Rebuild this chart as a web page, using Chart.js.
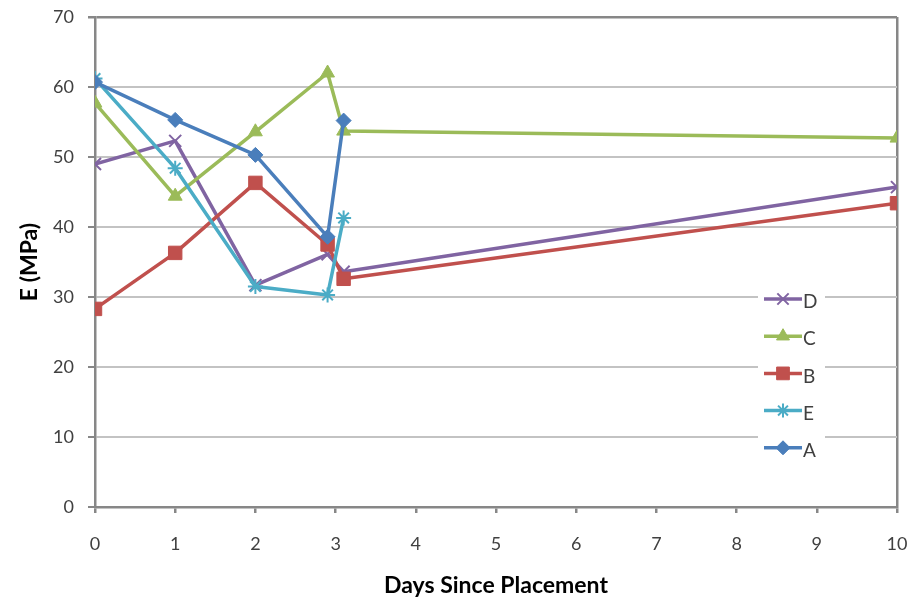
<!DOCTYPE html>
<html>
<head>
<meta charset="utf-8">
<script src="https://cdn.jsdelivr.net/npm/chart.js@4/dist/chart.umd.min.js"></script>
<style>
  html, body { margin: 0; padding: 0; background: #ffffff; }
  #wrap { width: 922px; height: 600px; }
</style>
</head>
<body>
<div id="wrap"><canvas id="chart" width="922" height="600"></canvas></div>
<script>
// Elastic modulus of each section by days since placement
const days = [0, 1, 2, 2.9, 3.1, 10];
const seriesNames = ['D', 'C', 'B', 'E', 'A'];
const seriesD = [49.0, 52.3, 31.7, 36.1, 33.6, 45.7];
const seriesC = [57.7, 44.4, 53.6, 62.0, 53.7, 52.7];
const seriesB = [28.3, 36.3, 46.3, 37.5, 32.6, 43.4];
const seriesE = [61.2, 48.4, 31.5, 30.3, 41.3, null];
const seriesA = [60.7, 55.3, 50.3, 38.6, 55.2, null];
const yTicks = [0, 10, 20, 30, 40, 50, 60, 70];
const xTicks = [0, 1, 2, 3, 4, 5, 6, 7, 8, 9, 10];

const FONT = 'Lato, "Open Sans", sans-serif';
const AXIS_GREY = '#878787';
const GRID_GREY = '#c3c3c3';
const LABEL_GREY = '#404040';

function toPoints(values) {
  const pts = [];
  values.forEach((v, i) => { if (v !== null) pts.push({ x: days[i], y: v }); });
  return pts;
}

const styles = {
  D: { color: '#8064A2', pointStyle: 'crossRot', radius: 8.5, borderWidth: 2, order: 4 },
  C: { color: '#9BBB59', pointStyle: 'triangle', radius: 8, borderWidth: 1, order: 3 },
  B: { color: '#C0504D', pointStyle: 'rect', radius: 9.5, borderWidth: 1, order: 2 },
  E: { color: '#4BACC6', pointStyle: 'star', radius: 7.5, borderWidth: 2, order: 1 },
  A: { color: '#4A7EBB', pointStyle: 'rectRot', radius: 7.5, borderWidth: 1, order: 0 }
};
const values = { D: seriesD, C: seriesC, B: seriesB, E: seriesE, A: seriesA };

const datasets = seriesNames.map(name => {
  const s = styles[name];
  return {
    label: name,
    data: toPoints(values[name]),
    borderColor: s.color,
    backgroundColor: s.color,
    borderWidth: 3.5,
    borderJoinStyle: 'round',
    tension: 0,
    pointStyle: s.pointStyle,
    pointRadius: s.radius,
    pointHoverRadius: s.radius,
    pointBorderWidth: s.borderWidth,
    pointBackgroundColor: s.color,
    pointBorderColor: s.color,
    order: s.order
  };
});

// Legend box drawn inside the plot, lines with markers like the series
const insideLegend = {
  id: 'insideLegend',
  afterDatasetsDraw(chart) {
    const { ctx, chartArea } = chart;
    const boxLeft = chartArea.right - 139;
    const boxTop = chartArea.top + 268;
    const rowGap = 37.2;
    ctx.save();
    ctx.fillStyle = '#ffffff';
    ctx.fillRect(boxLeft, boxTop, 67, 176);
    chart.data.datasets.forEach((ds, i) => {
      const y = boxTop + 14 + i * rowGap;
      const x0 = boxLeft + 6;
      const x1 = boxLeft + 44;
      ctx.strokeStyle = ds.borderColor;
      ctx.lineWidth = 3.5;
      ctx.beginPath();
      ctx.moveTo(x0, y);
      ctx.lineTo(x1, y);
      ctx.stroke();
      ctx.fillStyle = ds.pointBackgroundColor;
      ctx.strokeStyle = ds.pointBorderColor;
      ctx.lineWidth = ds.pointBorderWidth;
      Chart.helpers.drawPoint(ctx, {
        pointStyle: ds.pointStyle,
        radius: ds.pointRadius - 0.5,
        rotation: 0,
        borderWidth: ds.pointBorderWidth
      }, (x0 + x1) / 2, y);
      ctx.fillStyle = LABEL_GREY;
      ctx.font = '19px ' + FONT;
      ctx.textAlign = 'left';
      ctx.textBaseline = 'middle';
      ctx.fillText(ds.label, x1 + 1, y + 3);
    });
    ctx.restore();
  }
};

// Keep the plot frame fixed: labels overhang into the outer margins
function clearScalePadding(scale) {
  scale.paddingTop = 0;
  scale.paddingBottom = 0;
  scale.paddingLeft = 0;
  scale.paddingRight = 0;
}

new Chart(document.getElementById('chart'), {
  type: 'line',
  data: { datasets },
  options: {
    responsive: false,
    animation: false,
    devicePixelRatio: 1,
    layout: { padding: { top: 17, right: 25, left: 0, bottom: 0 } },
    plugins: {
      legend: { display: false },
      tooltip: { enabled: false }
    },
    scales: {
      x: {
        type: 'linear',
        min: xTicks[0],
        max: xTicks[xTicks.length - 1],
        afterBuildTicks(scale) { scale.ticks = xTicks.map(v => ({ value: v })); },
        afterFit(scale) { scale.height = 93; clearScalePadding(scale); },
        ticks: {
          color: LABEL_GREY,
          font: { family: FONT, size: 18 },
          padding: 20,
          maxRotation: 0,
          autoSkip: false
        },
        grid: {
          drawOnChartArea: true,
          color: ctx => (ctx.tick && ctx.tick.value === 10) ? AXIS_GREY : 'rgba(0,0,0,0)',
          lineWidth: 2.5,
          tickColor: AXIS_GREY,
          tickLength: 6
        },
        border: { color: AXIS_GREY, width: 2.5 },
        title: {
          display: true,
          text: 'Days Since Placement',
          color: '#000000',
          font: { family: FONT, size: 23, weight: 'bold' },
          padding: { top: 0, bottom: 1 }
        }
      },
      y: {
        type: 'linear',
        min: yTicks[0],
        max: yTicks[yTicks.length - 1],
        afterBuildTicks(scale) { scale.ticks = yTicks.map(v => ({ value: v })); },
        afterFit(scale) { scale.width = 95; clearScalePadding(scale); },
        ticks: {
          color: LABEL_GREY,
          font: { family: FONT, size: 18 },
          padding: 14
        },
        grid: {
          color: ctx => (ctx.tick && ctx.tick.value === 70) ? AXIS_GREY : GRID_GREY,
          lineWidth: ctx => (ctx.tick && ctx.tick.value === 70) ? 2.5 : 2,
          tickColor: AXIS_GREY,
          tickLength: 7
        },
        border: { color: AXIS_GREY, width: 2.5 },
        title: {
          display: true,
          text: 'E (MPa)',
          color: '#000000',
          font: { family: FONT, size: 23, weight: 'bold' },
          padding: { top: 16, bottom: 0 }
        }
      }
    }
  },
  plugins: [insideLegend]
});
</script>
</body>
</html>
